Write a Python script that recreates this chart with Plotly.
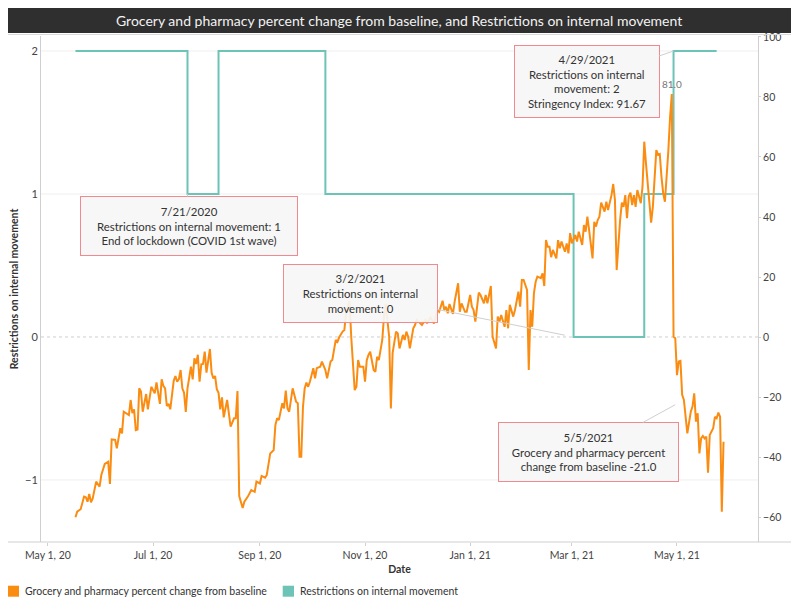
import pandas as pd
import plotly.graph_objects as go

# days counted from 2020-05-01
start = pd.Timestamp("2020-05-01")

# grocery and pharmacy percent change from baseline
grocery_day = [16, 17, 19, 21, 22, 23, 24, 25, 26, 28, 30, 31, 33, 35, 36, 37, 39, 40, 42, 43,
               44, 47, 48, 49, 50, 51, 52, 53, 54, 55, 57, 58, 60, 62, 63, 65, 66, 67, 68, 69,
               70, 71, 73, 74, 75, 76, 77, 78, 79, 80, 81, 83, 84, 85, 86, 87, 88, 89, 90, 91,
               92, 94, 95, 96, 97, 98, 99, 100, 101, 102, 104, 105, 106, 108, 109, 110, 111, 113, 114, 116,
               118, 120, 121, 123, 124, 126, 127, 129, 130, 131, 132, 133, 134, 136, 137, 138, 139, 140, 142, 144,
               145, 146, 147, 148, 149, 150, 151, 152, 154, 155, 156, 158, 159, 161, 162, 164, 165, 166, 167, 168,
               169, 171, 172, 173, 175, 176, 178, 179, 180, 181, 183, 184, 185, 186, 187, 189, 190, 191, 192, 194,
               195, 196, 197, 198, 199, 200, 202, 203, 204, 206, 207, 208, 209, 210, 212, 213, 214, 216, 217, 219,
               220, 222, 224, 226, 227, 229, 230, 231, 232, 233, 235, 236, 238, 239, 240, 242, 243, 245, 246, 247,
               248, 250, 251, 253, 254, 255, 257, 258, 260, 261, 262, 263, 265, 266, 267, 268, 270, 271, 272, 273,
               274, 275, 276, 278, 279, 280, 281, 282, 283, 284, 286, 287, 288, 289, 290, 291, 292, 293, 295, 296,
               297, 298, 300, 301, 302, 303, 304, 306, 307, 308, 310, 311, 312, 313, 314, 316, 317, 318, 319, 320,
               321, 323, 324, 325, 327, 328, 329, 330, 332, 333, 334, 335, 336, 337, 338, 339, 340, 341, 342, 344,
               345, 346, 347, 349, 350, 351, 353, 354, 355, 356, 357, 358, 359, 360, 361, 362, 363, 364, 365, 366,
               367, 368, 369, 370, 371, 373, 374, 375, 376, 377, 378, 379, 380, 381, 382, 383, 384, 386, 387, 388,
               389, 390, 391, 392]
grocery_pct = [-60.1, -58.2, -57.4, -53.2, -53.4, -54.9, -52.3, -55.1, -53.8, -48.2, -49.9, -46.0, -42.3, -41.6, -49.0, -34.1, -34.3, -37.1, -30.4, -32.1,
               -24.9, -26.0, -21.0, -25.4, -24.1, -31.0, -30.8, -17.1, -18.2, -24.9, -19.0, -24.1, -16.6, -18.8, -15.1, -22.3, -14.1, -16.3, -17.1, -23.0,
               -22.3, -24.1, -14.6, -13.0, -14.9, -14.0, -11.0, -17.1, -18.6, -25.0, -17.1, -9.9, -14.1, -7.1, -9.0, -5.9, -14.9, -9.1, -9.0, -4.9,
               -11.9, -4.0, -11.9, -13.8, -13.0, -17.4, -18.6, -24.1, -20.1, -26.8, -21.0, -26.0, -29.9, -27.1, -27.1, -18.0, -53.0, -57.0, -54.9, -53.2,
               -51.0, -51.6, -48.2, -48.8, -46.3, -46.9, -46.0, -38.8, -38.2, -37.7, -29.3, -27.1, -27.7, -22.1, -23.8, -17.9, -23.8, -24.9, -17.1, -21.6,
               -22.1, -39.9, -39.9, -23.2, -17.1, -15.2, -16.6, -14.9, -10.4, -13.8, -10.4, -9.9, -8.2, -11.0, -13.8, -8.2, -7.7, -3.8, -1.0, -1.6,
               -0.1, 1.8, 2.3, 8.0, 12.0, 0.0, -17.7, -16.6, -7.7, -9.9, -9.9, -14.9, -7.7, -6.0, -4.9, -11.0, -11.6, -6.6, -7.7, -1.0,
               6.8, 11.0, 5.7, 0.1, -23.8, -5.4, 1.8, 1.2, -3.8, 0.7, -1.0, 1.8, 0.1, -3.8, 2.9, 4.0, 5.7, 4.6, 4.0, 5.7,
               4.6, 6.5, 4.5, 9.0, 8.4, 12.1, 9.0, 10.1, 7.9, 11.0, 7.7, 11.8, 17.9, 8.4, 11.2, 8.4, 8.4, 14.0, 10.1, 9.0,
               5.1, 14.8, 14.0, 11.2, 14.0, 11.2, 17.0, 0.1, -3.8, 6.8, 5.1, 7.3, 3.4, 9.0, 2.9, 10.7, 6.8, 9.0, 11.8, 15.1,
               10.1, 19.0, 19.0, 15.7, -11.0, 9.0, 3.4, 14.6, 18.4, 20.1, 19.6, 21.2, 17.0, 32.3, 30.1, 30.1, 26.6, 29.0, 26.2, 32.3,
               29.6, 31.8, 28.4, 31.2, 27.9, 34.6, 31.2, 34.0, 31.8, 35.1, 30.7, 37.3, 35.1, 40.1, 35.7, 26.2, 38.4, 36.8, 39.0, 40.1,
               44.8, 41.8, 45.1, 42.3, 47.3, 51.0, 45.7, 22.3, 39.0, 44.8, 43.4, 47.3, 39.6, 46.8, 48.1, 44.0, 47.3, 43.4, 49.0, 44.6,
               50.1, 65.1, 57.9, 45.7, 38.1, 43.4, 62.3, 60.7, 61.0, 53.4, 47.9, 45.1, 52.9, 62.3, 73.4, 81.0, 0.1, -0.4, -12.7, -8.2,
               -8.0, -19.3, -21.0, -27.7, -32.1, -24.9, -23.2, -18.8, -28.2, -25.4, -38.8, -33.8, -33.0, -33.8, -33.2, -45.2, -32.7, -30.4, -26.6, -27.1,
               -25.2, -26.6, -58.2, -34.9]

# restrictions on internal movement: day the level changes, new level
restrict_day = [16, 81, 99, 161, 305, 346, 363, 388]
restrict_level = [2, 1, 2, 1, 0, 1, 2, 2]

x_ticks = ["2020-05-01", "2020-07-01", "2020-09-01", "2020-11-01", "2021-01-01", "2021-03-01", "2021-05-01"]
x_labels = ["May 1, 20", "Jul 1, 20", "Sep 1, 20", "Nov 1, 20", "Jan 1, 21", "Mar 1, 21", "May 1, 21"]
left_ticks = [-1, 0, 1, 2]
right_ticks = [-60, -40, -20, 0, 20, 40, 60, 80, 100]

series_names = ["Grocery and pharmacy percent change from baseline", "Restrictions on internal movement"]

ORANGE = "#fb8c12"
TEAL = "#6cc3b6"
FONT = "Lato"

grocery_dates = start + pd.to_timedelta(grocery_day, unit="D")
restrict_dates = start + pd.to_timedelta(restrict_day, unit="D")

fig = go.Figure()

fig.add_trace(go.Scatter(x=restrict_dates, y=restrict_level, mode="lines",
                         line=dict(color=TEAL, width=2, shape="hv"),
                         name=series_names[1], showlegend=False))
fig.add_trace(go.Scatter(x=grocery_dates, y=grocery_pct, mode="lines", yaxis="y2",
                         line=dict(color=ORANGE, width=2),
                         name=series_names[0], showlegend=False))

# gridlines on the left axis, dotted at zero
for v in [-1, 1, 2]:
    fig.add_hline(y=v, line=dict(color="#efefef", width=1), layer="below")
fig.add_hline(y=0, line=dict(color="#cfcfcf", width=1, dash="dot"), layer="below")

# title bar and frame lines
fig.add_shape(type="rect", xref="paper", yref="paper", x0=-0.0502, x1=1.0488, y0=1.006, y1=1.0573,
              fillcolor="#2f2f2f", line=dict(width=0))
fig.add_shape(type="line", xref="paper", yref="paper", x0=-0.0502, x1=1.0516, y0=1.003, y1=1.003,
              line=dict(color="#d9d9d9", width=1))
fig.add_shape(type="line", xref="paper", yref="paper", x0=-0.0502, x1=1.0516, y0=0, y1=0,
              line=dict(color="#cfcfcf", width=1))
fig.add_annotation(xref="paper", yref="paper", x=0.4993, y=1.0316, showarrow=False, yanchor="middle",
                   text="Grocery and pharmacy percent change from baseline, and Restrictions on internal movement",
                   font=dict(family=FONT, size=14, color="#f2f2f2"))

# legend drawn as swatch + label under the chart
for (sx0, sx1, tx), name, col in zip([(-0.0460, -0.0307, -0.0247), (0.3371, 0.3529, 0.3589)],
                                     series_names, [ORANGE, TEAL]):
    fig.add_shape(type="rect", xref="paper", yref="paper", x0=sx0, x1=sx1, y0=-0.1081, y1=-0.0864,
                  fillcolor=col, line=dict(width=0))
    fig.add_annotation(xref="paper", yref="paper", x=tx, y=-0.0978, xanchor="left", yanchor="middle",
                       showarrow=False, text=name, font=dict(family=FONT, size=10.5, color="#333333"))

box = dict(showarrow=True, arrowhead=0, arrowwidth=1, arrowcolor="#cfcfcf",
           bgcolor="rgba(246,246,246,0.92)", bordercolor="#ee8a90", borderwidth=1, borderpad=4,
           font=dict(family=FONT, size=11.4, color="#333333"), align="center")

fig.add_annotation(x="2020-07-21", y=1, ax=1, ay=32, width=208, height=50,
                   text="7/21/2020<br>Restrictions on internal movement: 1<br>End of lockdown (COVID 1st wave)",
                   **box)
fig.add_annotation(x="2021-03-02", y=0, ax=-213, ay=-43, width=145, height=49, standoff=9,
                   text="3/2/2021<br>Restrictions on internal<br>movement: 0", **box)
fig.add_annotation(x="2021-04-29", y=2, ax=-87, ay=30, width=136, height=63,
                   text="4/29/2021<br>Restrictions on internal<br>movement: 2<br>Stringency Index: 91.67", **box)
fig.add_annotation(x="2021-05-05", y=-21, yref="y2", ax=-95, ay=52, width=171, height=50, standoff=10,
                   text="5/5/2021<br>Grocery and pharmacy percent<br>change from baseline -21.0", **box)
fig.add_annotation(x="2021-04-28", y=81, yref="y2", text="81.0", showarrow=False, yshift=10,
                   font=dict(family=FONT, size=10, color="#777777"))

# the page body adds an 8px offset, so the figure is 8px smaller and margins are trimmed
fig.update_layout(
    width=791, height=594,
    margin=dict(l=33, r=41, t=28, b=60, autoexpand=False),
    paper_bgcolor="white", plot_bgcolor="white",
    font=dict(family=FONT, size=11, color="#444444"),
    showlegend=False,
    xaxis=dict(type="date", range=["2020-04-27", "2021-06-17"], automargin=False,
               tickvals=x_ticks, ticktext=x_labels, showgrid=False, zeroline=False,
               ticks="outside", ticklen=3, tickcolor="#d0d0d0", tickfont=dict(size=10.5),
               title=dict(text="<b>Date</b>", font=dict(size=10.5, color="#333333"), standoff=6)),
    yaxis=dict(range=[-1.434, 2.105], tickvals=left_ticks, showgrid=False, zeroline=False,
               automargin=False, showline=True, linecolor="#cfcfcf", tickfont=dict(size=11),
               title=dict(text="<b>Restrictions on internal movement</b>",
                          font=dict(size=10.5, color="#333333"), standoff=5)),
    yaxis2=dict(range=[-68.33, 100.33], tickvals=right_ticks, overlaying="y", side="right",
                showgrid=False, zeroline=False, showline=True, linecolor="#cfcfcf", automargin=False,
                ticks="outside", ticklen=2, tickcolor="#d0d0d0", tickfont=dict(size=10.5)),
)

fig.write_html("out.html")
